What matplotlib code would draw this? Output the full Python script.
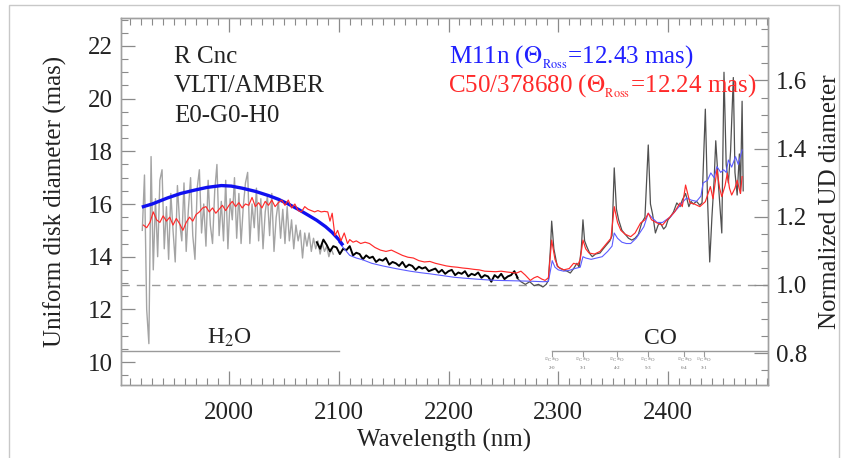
import numpy as np
import matplotlib
matplotlib.use("Agg")
import matplotlib.pyplot as plt
from matplotlib.ticker import MultipleLocator, FormatStrFormatter
from matplotlib.patches import Rectangle

plt.rcParams["font.family"] = ["Liberation Serif", "DejaVu Serif"]
plt.rcParams["mathtext.fontset"] = "stix"

# LIGHT GREY DATA (SHORT WAVELENGTHS)
gris_wl = [1921, 1923, 1925, 1927, 1929, 1931, 1933, 1935, 1937, 1939, 1941, 1943, 1945, 1947,
           1949, 1951, 1953, 1955, 1957, 1959, 1961, 1963, 1965, 1967, 1969, 1971, 1973, 1975,
           1977, 1979, 1981, 1983, 1985, 1987, 1989, 1991, 1993, 1995, 1997, 1999, 2001, 2003,
           2005, 2007, 2009, 2011, 2013, 2015, 2017, 2019, 2021, 2023, 2025, 2027, 2029, 2031,
           2033, 2035, 2037, 2039, 2041, 2043, 2045, 2047, 2049, 2051, 2053, 2055, 2057, 2059,
           2061, 2063, 2065, 2067, 2069, 2071, 2073, 2075, 2077, 2079, 2081, 2083, 2085, 2087,
           2089, 2091, 2093, 2095]
gris_val = [15.0, 17.1, 12.0, 10.7, 17.8, 13.5, 16.2, 14.0, 16.9, 17.3, 14.3, 15.9, 13.9, 16.4,
            15.0, 13.8, 16.7, 15.3, 14.6, 16.8, 14.2, 15.8, 17.0, 14.8, 13.9, 16.6, 17.3, 14.9,
            16.0, 14.4, 16.9, 15.2, 14.5, 16.5, 17.5, 14.8, 16.1, 14.6, 16.9, 14.3, 16.2, 15.4,
            17.0, 14.7, 16.4, 14.5, 15.9, 16.8, 17.2, 14.5, 16.0, 15.1, 16.6, 14.6, 16.2, 14.3,
            15.7, 16.3, 14.8, 16.4, 14.2, 15.5, 16.1, 14.7, 15.8, 14.5, 15.9, 14.6, 15.4, 14.3,
            15.2, 14.6, 15.0, 13.95, 14.9, 14.4, 14.9, 14.2, 14.7, 14.3, 14.6, 14.1, 14.5, 14.2,
            14.4, 14.0, 14.3, 14.1]

# BLACK DATA (CONTINUUM)
negro_wl = [2080, 2083, 2086, 2089, 2092, 2095, 2098, 2101, 2104, 2107, 2110, 2113, 2116, 2119,
            2122, 2125, 2128, 2131, 2134, 2137, 2140, 2143, 2146, 2149, 2152, 2155, 2158, 2161,
            2164, 2167, 2170, 2173, 2176, 2179, 2182, 2185, 2188, 2191, 2194, 2197, 2200, 2203,
            2206, 2209, 2212, 2215, 2218, 2221, 2224, 2227, 2230, 2233, 2236, 2239, 2242, 2245,
            2248, 2251, 2254, 2257, 2260, 2263]
negro_val = [14.55, 14.3, 14.65, 14.45, 14.2, 14.4, 14.35, 14.1, 14.3, 14.25, 14.4, 14.05, 14.15, 14.1,
             13.9, 14.05, 13.95, 14.0, 13.8, 13.9, 13.85, 13.95, 13.7, 13.8, 13.75, 13.65, 13.8, 13.6,
             13.7, 13.65, 13.5, 13.62, 13.55, 13.6, 13.45, 13.5, 13.55, 13.4, 13.5, 13.35, 13.45, 13.5,
             13.3, 13.4, 13.35, 13.45, 13.25, 13.35, 13.3, 13.4, 13.2, 13.3, 13.25, 13.05, 13.3, 13.2,
             13.35, 13.15, 13.25, 13.3, 13.45, 13.2]

# DARK GREY DATA (CO BANDS)
co_wl = [2262, 2266, 2270, 2274, 2278, 2282, 2286, 2289, 2291, 2293, 2294, 2296, 2299, 2302,
         2305, 2308, 2311, 2314, 2317, 2319, 2321, 2322.5, 2324, 2326, 2329, 2331, 2334, 2338,
         2341, 2344, 2347, 2349, 2351, 2353, 2355, 2358, 2361, 2364, 2367, 2370, 2373, 2376,
         2379, 2382, 2384, 2386, 2388.5, 2391, 2393, 2396, 2398, 2400, 2402, 2405, 2408, 2411,
         2413, 2416, 2419, 2421, 2423, 2426, 2429, 2431, 2434, 2436, 2438, 2440, 2442, 2443.5,
         2446, 2449, 2451, 2453, 2455, 2457, 2459.5, 2461, 2463, 2465, 2466, 2467.5, 2468.5]
co_val = [13.2, 13.05, 12.95, 13.05, 12.9, 12.95, 12.85, 12.95, 13.1, 14.4, 15.35, 14.3, 13.65, 13.55,
          13.5, 13.45, 13.38, 13.55, 13.75, 13.6, 14.3, 15.4, 14.6, 14.38, 14.1, 14.0, 14.1, 14.14,
          14.3, 14.45, 14.6, 14.8, 17.37, 15.8, 15.4, 15.0, 14.85, 14.7, 14.63, 14.7, 14.85, 15.28,
          15.5, 18.24, 16.0, 15.6, 14.9, 15.2, 15.28, 15.05, 15.14, 15.4, 15.5, 15.7, 16.04, 15.9,
          16.15, 16.4, 15.9, 16.1, 16.0, 16.1, 15.95, 16.05, 19.6, 16.2, 13.8, 15.5, 16.9, 18.4,
          16.7, 14.9, 21.0, 17.5, 16.8, 18.0, 20.8, 17.2, 16.34, 17.9, 16.4, 19.9, 16.5]

# MODEL M11n (THICK + THIN)
azul_grueso_wl = [1922, 1930, 1944, 1956, 1969, 1980, 1993, 2002, 2012, 2024, 2036, 2045, 2054,
                  2063, 2072, 2080, 2088, 2094, 2100, 2103]
azul_grueso_val = [15.9, 16.0, 16.23, 16.4, 16.53, 16.63, 16.7, 16.68, 16.6, 16.48, 16.32, 16.18, 16.0,
                   15.8, 15.58, 15.38, 15.14, 14.92, 14.65, 14.48]
azul_wl = [2100, 2105, 2110, 2116, 2122, 2130, 2140, 2153, 2165, 2175, 2183, 2195, 2205, 2213,
           2225, 2235, 2244, 2255, 2265, 2275, 2286, 2291, 2293, 2294.5, 2297, 2300, 2305, 2310,
           2315, 2320, 2322.5, 2325, 2330, 2335, 2340, 2345, 2349, 2351, 2354, 2358, 2362, 2366,
           2371, 2375, 2378, 2382, 2385, 2390, 2395, 2400, 2402, 2406, 2410, 2414, 2417, 2421,
           2426, 2430, 2432, 2436, 2439, 2442, 2444.6, 2448, 2450.7, 2453, 2455, 2458, 2461.5,
           2464, 2467.5]
azul_val = [14.55, 14.3, 14.05, 13.95, 13.88, 13.75, 13.65, 13.54, 13.45, 13.39, 13.35, 13.28, 13.22, 13.19,
            13.15, 13.12, 13.1, 13.09, 13.08, 13.07, 13.05, 13.06, 13.5, 13.85, 13.6, 13.5, 13.45, 13.48,
            13.55, 13.6, 14.0, 13.95, 13.9, 13.95, 14.0, 14.2, 14.4, 14.9, 14.7, 14.55, 14.5, 14.5,
            14.7, 14.95, 15.14, 15.65, 15.5, 15.3, 15.3, 15.45, 15.5, 15.7, 15.9, 16.1, 16.23, 16.15,
            16.1, 16.3, 16.8, 16.9, 17.18, 17.0, 17.42, 17.2, 17.3, 17.2, 17.67, 17.4, 17.8,
            17.5, 18.05]

# MODEL C50/378680
rojo_wl = [1922, 1925, 1928, 1931, 1934, 1937, 1940, 1943, 1946, 1949, 1952, 1955, 1958, 1961,
           1964, 1967, 1970, 1973, 1976, 1979, 1982, 1985, 1988, 1991, 1994, 1997, 2000, 2003,
           2006, 2009, 2012, 2015, 2018, 2021, 2024, 2027, 2030, 2033, 2036, 2039, 2042, 2045,
           2048, 2051, 2054, 2057, 2060, 2063, 2066, 2069, 2072, 2075, 2078, 2081, 2084, 2087,
           2090, 2092, 2094, 2096.5, 2099, 2102, 2105, 2108, 2110, 2113, 2116, 2120, 2124, 2128,
           2133, 2138, 2143, 2148, 2153, 2158, 2163, 2168, 2173, 2178, 2183, 2188, 2193, 2198,
           2203, 2208, 2213, 2218, 2223, 2228, 2233, 2238, 2243, 2248, 2253, 2258, 2262, 2266,
           2270, 2274.5, 2278, 2281, 2285, 2288, 2291, 2294, 2297, 2300, 2305, 2310, 2314, 2318,
           2320, 2322.5, 2325, 2328, 2333, 2338, 2344, 2348, 2351, 2354, 2357, 2361, 2366, 2370,
           2375, 2379, 2382, 2385, 2390, 2395, 2398, 2402, 2406, 2411, 2413, 2416, 2420, 2424,
           2429, 2434, 2438.6, 2441, 2444.6, 2447, 2449, 2452, 2454, 2456, 2458, 2461, 2463,
           2466, 2467.5]
rojo_val = [15.2, 15.1, 15.3, 15.7, 15.4, 15.3, 15.55, 15.35, 15.5, 15.2, 15.45, 15.25, 15.0, 15.3,
            15.5, 15.35, 15.6, 15.7, 15.85, 15.9, 15.7, 15.85, 15.65, 15.8, 15.95, 15.75, 15.95, 16.1,
            15.9, 16.05, 15.85, 16.0, 15.95, 16.25, 15.9, 16.05, 15.85, 16.1, 15.95, 16.15, 15.9, 16.05,
            16.15, 15.95, 16.15, 15.85, 16.0, 15.75, 15.7, 15.9, 15.8, 15.75, 15.7, 15.75, 15.7, 15.72,
            15.7, 15.35, 15.65, 14.8, 15.0, 14.6, 14.9, 14.5, 14.65, 14.55, 14.6, 14.5, 14.55, 14.5,
            14.35, 14.25, 14.2, 14.25, 14.15, 14.05, 13.98, 13.95, 13.85, 13.8, 13.82, 13.75, 13.7, 13.65,
            13.62, 13.6, 13.57, 13.55, 13.52, 13.5, 13.45, 13.44, 13.43, 13.45, 13.42, 13.4, 13.38, 13.45,
            13.3, 13.1, 13.2, 13.25, 13.15, 13.1, 13.2, 14.63, 13.9, 13.6, 13.5, 13.55, 13.75, 13.7,
            13.9, 14.63, 14.3, 14.14, 14.1, 14.2, 14.5, 14.7, 15.9, 15.3, 15.0, 14.85, 14.76, 14.9,
            15.28, 15.4, 15.65, 15.4, 15.28, 15.2, 15.35, 15.52, 15.7, 16.04, 15.9, 16.72, 16.04, 16.0,
            15.9, 16.09, 16.66, 16.2, 17.3, 16.6, 16.28, 16.7, 17.17, 16.6, 16.34, 16.6, 16.9,
            16.4, 17.04]

# CO BANDHEADS
co_cabezas = [2294, 2322.5, 2353.5, 2382, 2415, 2433]
co_isotopos = ["$^{12}$C$^{16}$O", "$^{12}$C$^{16}$O", "$^{12}$C$^{16}$O",
               "$^{12}$C$^{16}$O", "$^{12}$C$^{16}$O", "$^{13}$C$^{16}$O"]
co_transiciones = ["2-0", "3-1", "4-2", "5-3", "6-4", "3-1"]

factor_norma = 12.93
y_min, y_max = 9.13, 23.06
x_min, x_max = 1901.6, 2491.1
texto = "#222222"

fig = plt.figure(figsize=(8.41, 4.58), dpi=100)
ax = fig.add_axes([121 / 841, 1 - 385 / 458, 647 / 841, 367 / 458])

# BORDE EXTERIOR
fig.patches.append(Rectangle((9 / 841, -0.05), 830 / 841, 1.05 - 5 / 458,
                             transform=fig.transFigure, fill=False,
                             edgecolor="#c8c8c8", linewidth=1.0))

ax.plot(gris_wl, gris_val, color="#a4a4a4", lw=1.0, zorder=2)
ax.plot(co_wl, co_val, color="#505050", lw=0.9, zorder=2)
ax.plot(negro_wl, negro_val, color="black", lw=1.4, zorder=3)
ax.plot(azul_wl, azul_val, color="#5c5cff", lw=0.8, zorder=4)
ax.plot(azul_grueso_wl, azul_grueso_val, color="#1010f0", lw=2.4, zorder=4)
ax.plot(rojo_wl, rojo_val, color="#ff2a2a", lw=0.85, zorder=5)

ax.axhline(factor_norma, color="#9a9a9a", lw=1.0, ls=(0, (6, 5)), zorder=1)

# H2O Y CO
ax.plot([x_min, 2100], [10.43, 10.43], color="#9a9a9a", lw=1.0)
ax.text(2000, 10.7, "H$_2$O", ha="center", va="baseline", fontsize=17, color=texto)
ax.plot([co_cabezas[0], x_max], [10.43, 10.43], color="#9a9a9a", lw=1.0)
ax.text(2393, 10.7, "CO", ha="center", va="baseline", fontsize=17, color=texto)
for xc, iso, tr in zip(co_cabezas, co_isotopos, co_transiciones):
    ax.plot([xc, xc], [10.43, 10.22], color="#9a9a9a", lw=0.8)
    ax.text(xc, 10.05, iso, ha="center", va="center", fontsize=3.5, color="#666666")
    ax.text(xc, 9.78, tr, ha="center", va="center", fontsize=3.5, color="#666666")

# TEXTOS
x_izq = (174 - 121) / 647
for txt, py in zip(["R Cnc", "VLTI/AMBER", "E0-G0-H0"], [63, 92, 122]):
    ax.text(x_izq, 1 - (py - 18) / 367, txt, transform=ax.transAxes,
            fontsize=18, color=texto, va="baseline")
ax.text((449 - 121) / 647, 1 - (63 - 18) / 367, r"M11n ($\Theta_{{}_{\rm Ross}}$=12.43 mas)",
        transform=ax.transAxes, fontsize=18, color="#2020ff", va="baseline")
ax.text((448 - 121) / 647, 1 - (92 - 18) / 367, r"C50/378680 ($\Theta_{{}_{\rm Ross}}$=12.24 mas)",
        transform=ax.transAxes, fontsize=18, color="#ff2a2a", va="baseline")

ax.set_xlim(x_min, x_max)
ax.set_ylim(y_min, y_max)
ax.xaxis.set_major_locator(MultipleLocator(100))
ax.xaxis.set_minor_locator(MultipleLocator(10))
ax.yaxis.set_major_locator(MultipleLocator(2))
ax.yaxis.set_minor_locator(MultipleLocator(0.5))
ax.tick_params(which="both", direction="in", top=True, right=False, color="#8a8a8a",
               labelsize=18, labelcolor=texto)
ax.tick_params(which="major", length=10, width=0.9)
ax.tick_params(which="minor", length=5, width=0.8)
ax.tick_params(axis="x", pad=12)
ax.tick_params(axis="y", pad=6)
ax.set_xlabel("Wavelength (nm)", fontsize=18, color=texto, labelpad=4)
ax.set_ylabel("Uniform disk diameter (mas)", fontsize=18, color=texto)
ax.yaxis.set_label_coords(-0.083, 0.5)

ax2 = ax.twinx()
ax2.set_ylim(y_min / factor_norma, y_max / factor_norma)
ax2.yaxis.set_major_locator(MultipleLocator(0.2))
ax2.yaxis.set_minor_locator(MultipleLocator(0.05))
ax2.yaxis.set_major_formatter(FormatStrFormatter("%.1f"))
ax2.tick_params(which="both", direction="in", color="#8a8a8a", labelsize=18,
                labelcolor=texto, pad=6)
ax2.tick_params(which="major", length=10, width=0.9)
ax2.tick_params(which="minor", length=5, width=0.8)
ax2.set_ylabel("Normalized UD diameter", fontsize=18, color=texto)
ax2.yaxis.set_label_coords(1.079, 0.5)

for a in (ax, ax2):
    for s in a.spines.values():
        s.set_color("#a0a0a0")
        s.set_linewidth(1.0)

fig.savefig("out.png", dpi=100)
